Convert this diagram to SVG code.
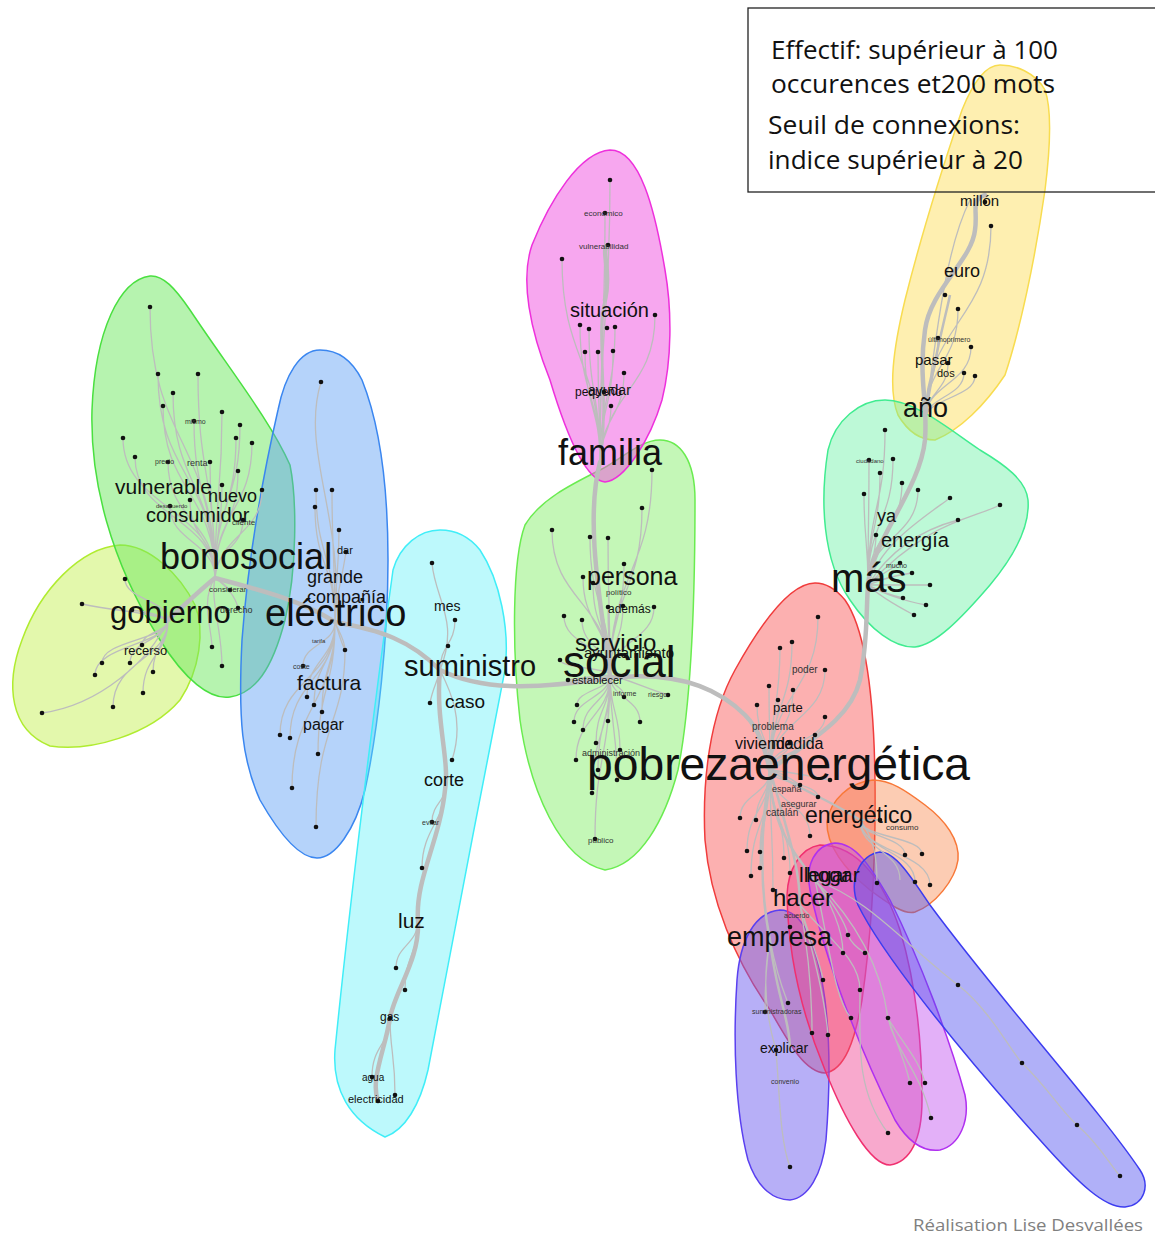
<svg xmlns="http://www.w3.org/2000/svg" width="1155" height="1236" viewBox="0 0 1155 1236">
<style>
.h{stroke-width:1.5}
.e{fill:none;stroke:#bdbdbd;stroke-width:1.3}
.b{fill:none;stroke:#bdbdbd;stroke-width:4.5;stroke-linecap:round}
.m{fill:none;stroke:#bdbdbd;stroke-width:2.5}
.n circle{fill:#111}
text{font-family:"Liberation Sans",Arial,sans-serif;fill:#111}
.s{fill:#333}
.lg{font-family:"Open Sans","Noto Sans",sans-serif;font-size:26px;fill:#111}
</style>
<rect width="1155" height="1236" fill="#fff"/>
<g id="hulls">
<g id="hull-gobierno"><path class="h" fill="#c8f25a" fill-opacity="0.5" stroke="#b0ec30" d="M120,545 C80,548 40,590 22,640 C5,685 10,730 50,746 C90,752 150,735 180,700 C200,670 205,630 195,605 C180,575 150,545 120,545 Z"/></g>
<g id="hull-bonosocial"><path class="h" fill="#6ee860" fill-opacity="0.5" stroke="#4ae040" d="M150,276 C120,280 95,330 92,410 C90,480 110,560 160,640 C185,680 210,700 230,697 C255,693 272,670 285,620 C297,570 297,500 290,465 C270,420 230,370 190,310 C175,288 163,275 150,276 Z"/></g>
<g id="hull-electrico"><path class="h" fill="#5a9ef5" fill-opacity="0.45" stroke="#3a86f0" d="M320,350 C300,350 285,375 278,410 C262,480 248,560 242,640 C238,720 242,760 260,800 C280,835 300,858 317,858 C335,858 355,830 365,790 C378,730 388,640 388,560 C388,480 378,420 362,380 C352,360 338,350 320,350 Z"/></g>
<g id="hull-suministro"><path class="h" fill="#5af0f8" fill-opacity="0.4" stroke="#40eef8" d="M440,530 C420,530 400,545 393,570 C375,700 350,900 335,1050 C332,1090 350,1120 385,1137 C405,1130 420,1105 428,1070 C450,950 480,800 505,670 C510,630 500,580 480,550 C468,535 455,530 440,530 Z"/></g>
<g id="hull-social"><path class="h" fill="#8af070" fill-opacity="0.5" stroke="#6aec50" d="M660,440 C640,440 620,460 600,470 C570,485 540,500 525,525 C512,560 512,650 520,720 C530,790 560,860 605,870 C640,865 665,820 678,770 C692,700 695,600 695,500 C695,460 680,440 660,440 Z"/></g>
<g id="hull-familia"><path class="h" fill="#f050e0" fill-opacity="0.5" stroke="#ee30dc" d="M610,150 C580,152 550,200 532,245 C520,280 530,330 550,380 C565,430 585,480 605,482 C625,480 650,440 662,400 C672,360 672,310 665,270 C655,210 640,150 610,150 Z"/></g>
<g id="hull-ano"><path class="h" fill="#fcdc50" fill-opacity="0.45" stroke="#f8dc50" d="M1000,65 C985,65 972,85 962,110 C945,160 920,240 905,300 C893,350 888,390 898,415 C908,432 920,440 935,440 C960,430 985,405 1005,375 C1020,330 1035,260 1045,190 C1050,150 1052,110 1045,90 C1035,72 1015,65 1000,65 Z"/></g>
<g id="hull-mas"><path class="h" fill="#5af09a" fill-opacity="0.4" stroke="#40ec90" d="M885,400 C860,400 835,420 828,450 C820,500 822,560 850,600 C870,630 895,648 915,647 C935,645 960,620 990,585 C1015,555 1030,525 1028,500 C1026,480 1005,465 980,450 C950,430 915,400 885,400 Z"/></g>
<g id="hull-pobreza"><path class="h" fill="#f85050" fill-opacity="0.45" stroke="#f03c3c" d="M815,583 C790,583 760,625 735,670 C710,715 702,780 705,840 C710,900 735,960 770,1010 C790,1045 805,1072 825,1073 C845,1070 855,1040 862,1000 C872,930 876,860 875,780 C874,700 866,630 845,600 C835,588 825,583 815,583 Z"/></g>
<g id="hull-energetico"><path class="h" fill="#f88040" fill-opacity="0.4" stroke="#f87838" d="M873,780 C850,782 830,800 827,822 C826,845 845,870 870,890 C890,905 905,915 915,912 C935,905 955,880 958,860 C960,840 945,820 925,805 C905,790 890,780 873,780 Z"/></g>
<g id="hull-explicar"><path class="h" fill="#7060f0" fill-opacity="0.5" stroke="#5a40f0" d="M780,910 C755,912 740,940 737,980 C733,1040 735,1110 748,1160 C758,1190 775,1200 790,1200 C808,1198 822,1175 826,1140 C830,1090 830,1040 825,1000 C818,950 805,910 780,910 Z"/></g>
<g id="hull-hogar"><path class="h" fill="#f04090" fill-opacity="0.45" stroke="#f03070" d="M820,845 C800,848 788,870 787,895 C788,950 800,1010 825,1070 C845,1120 870,1165 890,1165 C910,1162 922,1140 922,1100 C922,1040 915,980 900,930 C885,885 860,845 820,845 Z"/></g>
<g id="hull-violet"><path class="h" fill="#c050f0" fill-opacity="0.45" stroke="#b030f0" d="M835,843 C815,845 805,865 810,890 C825,960 860,1050 895,1120 C910,1145 925,1152 940,1150 C960,1145 970,1120 965,1095 C950,1040 920,960 890,900 C870,865 855,843 835,843 Z"/></g>
<g id="hull-diag"><path class="h" fill="#5050f0" fill-opacity="0.45" stroke="#3c3cf0" d="M880,852 C860,855 848,880 858,905 C880,950 950,1040 1040,1140 C1080,1185 1105,1208 1125,1207 C1145,1205 1150,1185 1140,1170 C1100,1110 1000,1000 930,905 C910,875 895,852 880,852 Z"/></g>
</g>
<g id="connectors">
<path class="e" d="M150,307 C150,443 215,443 215,578 M158,374 C158,476 215,476 215,578 M198,374 C198,476 215,476 215,578 M173,393 C173,485 215,485 215,578 M163,406 C163,492 215,492 215,578 M222,412 C222,495 215,495 215,578 M194,421 C194,500 215,500 215,578 M240,425 C240,502 215,502 215,578 M123,438 C123,508 215,508 215,578 M236,438 C236,508 215,508 215,578 M252,443 C252,510 215,510 215,578 M135,457 C135,518 215,518 215,578 M168,462 C168,520 215,520 215,578 M210,462 C210,520 215,520 215,578 M238,471 C238,525 215,525 215,578 M222,485 C222,531 215,531 215,578 M190,500 C190,539 215,539 215,578 M170,506 C170,542 215,542 215,578 M243,520 C243,549 215,549 215,578 M262,490 C262,534 220,534 215,578"/>
<path class="e" d="M125,579 C125,600 168,600 168,620 M82,604 C120,612 150,612 168,620 M132,610 C150,612 160,615 168,620 M142,645 C142,632 168,632 168,620 M102,663 C102,640 168,640 168,620 M130,663 C130,640 168,640 168,620 M95,675 C95,645 168,645 168,620 M153,672 C153,645 168,645 168,620 M143,693 C143,655 168,655 168,620 M113,707 C113,660 168,660 168,620 M42,713 C100,705 150,660 168,620 M212,647 C212,630 200,600 215,578 M222,666 C222,630 210,600 215,578 M230,590 C225,585 220,580 215,578 M238,608 C235,595 225,585 215,578"/>
<path class="e" d="M321,382 C300,450 345,520 335,622 M316,490 C316,556 335,556 335,622 M332,490 C332,556 335,556 335,622 M315,507 C315,565 335,565 335,622 M339,530 C339,576 335,576 335,622 M346,552 C340,590 335,600 335,622 M303,666 C303,644 335,644 335,622 M307,697 C307,660 335,660 335,622 M314,705 C314,664 335,664 335,622 M322,712 C322,667 335,667 335,622 M280,735 C280,679 335,679 335,622 M290,738 C290,680 335,680 335,622 M318,754 C318,688 335,688 335,622 M292,788 C292,705 335,705 335,622 M316,827 C316,724 345,724 345,650 C345,640 338,630 335,622 M345,650 C340,640 338,630 335,622"/>
<path class="e" d="M432,563 C435,600 460,620 440,670 M455,620 C455,645 440,645 440,670 M452,760 C465,720 450,690 440,670 M430,703 C432,690 438,680 440,670 M432,822 C432,805 445,800 445,790 M422,868 C422,830 445,820 445,790 M396,968 C396,945 418,945 418,920 M405,990 C405,955 418,955 418,920 M372,1077 C372,1045 390,1045 390,1018 M395,1095 C395,1055 390,1050 390,1018"/>
<path class="e" d="M610,180 C610,320 600,320 600,462 M605,213 C605,340 600,340 600,462 M562,259 C562,360 600,360 600,462 M580,325 C580,395 600,395 600,462 M589,329 C589,395 600,395 600,462 M615,327 C615,395 600,395 600,462 M585,352 C585,407 600,407 600,462 M598,352 C598,407 600,407 600,462 M613,351 C613,407 600,407 600,462 M624,373 C624,418 600,418 600,462 M604,392 C604,427 600,427 600,462 M611,406 C611,434 600,434 600,462 M655,315 C655,390 605,390 600,462"/>
<path class="e" d="M652,470 C652,572 610,572 610,675 M642,508 C642,592 610,592 610,675 M552,530 C552,602 610,602 610,675 M590,537 C590,606 610,606 610,675 M608,538 C608,606 610,606 610,675 M624,564 C624,620 610,620 610,675 M583,577 C583,626 610,626 610,675 M593,583 C593,629 610,629 610,675 M608,607 C608,641 610,641 610,675 M623,606 C623,641 610,641 610,675 M654,607 C654,641 610,641 610,675 M564,616 C564,646 610,646 610,675 M582,620 C582,648 610,648 610,675 M560,660 C560,668 610,668 610,675 M568,680 C580,678 600,676 610,675 M668,695 C650,690 630,680 610,675 M577,705 C577,690 610,690 610,675 M624,697 C624,686 610,686 610,675 M574,722 C574,698 610,698 610,675 M608,721 C608,698 610,698 610,675 M640,722 C640,698 610,698 610,675 M583,730 C583,702 610,702 610,675 M596,743 C596,709 610,709 610,675 M620,750 C620,712 610,712 610,675 M576,760 C576,717 610,717 610,675 M598,770 C598,722 610,722 610,675 M617,780 C617,727 610,727 610,675 M592,793 C592,734 610,734 610,675 M595,839 C595,757 610,757 610,675"/>
<path class="e" d="M818,617 C818,693 770,693 770,770 M792,642 C792,706 770,706 770,770 M780,648 C780,709 770,709 770,770 M769,686 C769,728 770,728 770,770 M793,690 C793,730 770,730 770,770 M825,670 C825,720 770,720 770,770 M757,705 C757,737 770,737 770,770 M778,700 C778,735 770,735 770,770 M825,717 C825,743 770,743 770,770 M815,735 C815,752 770,752 770,770 M790,742 C790,756 770,756 770,770 M755,760 C760,765 765,768 770,770 M830,780 C810,776 790,772 770,770 M800,785 C790,778 780,772 770,770 M818,797 C818,783 770,783 770,770 M740,818 C740,794 770,794 770,770 M756,820 C756,795 770,795 770,770 M810,836 C810,803 770,803 770,770 M747,851 C747,810 770,810 770,770 M760,852 C760,811 770,811 770,770 M784,858 C784,814 770,814 770,770 M760,868 C760,819 770,819 770,770 M790,873 C790,821 770,821 770,770 M773,890 C773,830 770,830 770,770 M751,876 C751,823 770,823 770,770"/>
<path class="e" d="M885,430 C885,508 868,508 868,585 M869,460 C869,522 868,522 868,585 M893,459 C893,522 868,522 868,585 M880,473 C880,529 868,529 868,585 M902,483 C902,534 868,534 868,585 M918,490 C918,538 868,538 868,585 M864,494 C864,540 868,540 868,585 M950,498 C920,520 880,545 868,585 M1000,505 C970,520 930,520 868,585 M958,520 C920,530 890,550 868,585 M876,535 C876,560 868,560 868,585 M900,563 C890,570 875,578 868,585 M912,573 C895,575 880,580 868,585 M930,585 C905,585 885,585 868,585 M903,598 C890,595 878,590 868,585 M926,605 C900,600 880,592 868,585 M914,615 C895,605 878,595 868,585"/>
<path class="e" d="M991,226 C991,323 925,323 925,420 M970,200 C950,240 940,300 925,420 M958,309 C958,365 925,365 925,420 M938,338 C938,379 925,379 925,420 M971,347 C971,384 925,384 925,420 M964,373 C964,397 925,397 925,420 M975,376 C975,398 925,398 925,420 M948,363 C948,392 925,392 925,420"/>
<path class="e" d="M880,820 C875,820 868,820 860,820 M922,854 C922,837 860,837 860,820 M905,855 C905,837 860,837 860,820 M930,885 C930,852 860,852 860,820 M900,880 C900,850 860,850 860,820 M915,882 C915,851 862,851 860,820"/>
<path class="e" d="M815,880 C850,915 880,960 888,1018 C895,1050 920,1070 931,1118 M800,905 C830,940 860,960 860,990 C860,1040 855,1090 888,1133 M770,940 C760,990 770,1030 776,1050 C780,1100 780,1140 790,1167 M815,880 C830,900 845,920 848,935 C852,945 860,950 865,953 M800,905 C810,940 820,960 823,980 M815,880 C830,900 843,930 843,953 M770,940 C778,980 785,995 788,1003 M770,940 C765,970 765,995 765,1012 M815,880 C830,950 835,1000 851,1018 M800,905 C810,960 812,1000 812,1033 M800,905 C815,960 825,1000 828,1035 M888,1018 C900,1040 920,1060 925,1083 M888,1018 C895,1040 905,1060 910,1083 M815,880 C870,900 900,940 958,985 C990,1010 1010,1050 1022,1063 C1050,1090 1060,1110 1077,1125 C1100,1145 1110,1165 1120,1176 M860,820 C875,840 877,860 877,883"/>
<path class="m" d="M770,770 C770,820 790,850 815,880 M770,770 C760,830 760,890 770,940 M770,770 C790,840 800,870 800,905 M770,770 C800,790 830,800 860,820 M770,940 C775,990 790,1020 790,1050 M600,462 C610,400 595,330 605,300 M925,420 C935,350 945,320 950,295"/>
<path class="b" d="M168,620 C190,600 200,590 215,578 C260,590 300,600 335,622 C380,630 410,640 440,670 C480,690 530,690 610,678 C680,670 720,690 745,715 C760,730 765,750 770,770 C810,740 850,720 860,680 C868,640 866,610 868,585 C872,540 920,490 925,440 C928,400 918,380 925,330 C930,290 972,260 975,230 C978,210 970,200 985,195"/>
<path class="b" d="M610,675 C600,600 585,520 600,462 M605,300 C612,270 600,250 608,245"/>
<path class="b" d="M440,670 C435,720 450,760 445,790 C440,840 415,880 418,920 C420,960 395,990 390,1018 C385,1050 370,1080 378,1101"/>
</g>
<g id="nodes" class="n">
<circle cx="150" cy="307" r="2.3"/><circle cx="158" cy="374" r="2.3"/><circle cx="198" cy="374" r="2.3"/><circle cx="173" cy="393" r="2.3"/><circle cx="163" cy="406" r="2.3"/><circle cx="222" cy="412" r="2.3"/><circle cx="194" cy="421" r="2.3"/><circle cx="240" cy="425" r="2.3"/><circle cx="123" cy="438" r="2.3"/><circle cx="236" cy="438" r="2.3"/><circle cx="252" cy="443" r="2.3"/><circle cx="135" cy="457" r="2.3"/><circle cx="168" cy="462" r="2.3"/><circle cx="210" cy="462" r="2.3"/><circle cx="238" cy="471" r="2.3"/><circle cx="222" cy="485" r="2.3"/><circle cx="190" cy="500" r="2.3"/><circle cx="170" cy="506" r="2.3"/><circle cx="243" cy="520" r="2.3"/><circle cx="262" cy="490" r="2.3"/>
<circle cx="125" cy="579" r="2.3"/><circle cx="82" cy="604" r="2.3"/><circle cx="132" cy="610" r="2.3"/><circle cx="142" cy="645" r="2.3"/><circle cx="102" cy="663" r="2.3"/><circle cx="130" cy="663" r="2.3"/><circle cx="95" cy="675" r="2.3"/><circle cx="153" cy="672" r="2.3"/><circle cx="143" cy="693" r="2.3"/><circle cx="113" cy="707" r="2.3"/><circle cx="42" cy="713" r="2.3"/><circle cx="212" cy="647" r="2.3"/><circle cx="222" cy="666" r="2.3"/><circle cx="230" cy="590" r="2.3"/><circle cx="238" cy="608" r="2.3"/>
<circle cx="321" cy="382" r="2.3"/><circle cx="316" cy="490" r="2.3"/><circle cx="332" cy="490" r="2.3"/><circle cx="315" cy="507" r="2.3"/><circle cx="339" cy="530" r="2.3"/><circle cx="346" cy="552" r="2.3"/><circle cx="303" cy="666" r="2.3"/><circle cx="307" cy="697" r="2.3"/><circle cx="314" cy="705" r="2.3"/><circle cx="322" cy="712" r="2.3"/><circle cx="280" cy="735" r="2.3"/><circle cx="290" cy="738" r="2.3"/><circle cx="318" cy="754" r="2.3"/><circle cx="292" cy="788" r="2.3"/><circle cx="316" cy="827" r="2.3"/><circle cx="345" cy="650" r="2.3"/>
<circle cx="432" cy="563" r="2.3"/><circle cx="455" cy="620" r="2.3"/><circle cx="448" cy="646" r="2.3"/><circle cx="430" cy="703" r="2.3"/><circle cx="452" cy="760" r="2.3"/><circle cx="432" cy="822" r="2.3"/><circle cx="422" cy="868" r="2.3"/><circle cx="396" cy="968" r="2.3"/><circle cx="405" cy="990" r="2.3"/><circle cx="390" cy="1018" r="2.3"/><circle cx="372" cy="1077" r="2.3"/><circle cx="395" cy="1095" r="2.3"/><circle cx="378" cy="1101" r="2.3"/>
<circle cx="610" cy="180" r="2.3"/><circle cx="605" cy="213" r="2.3"/><circle cx="608" cy="245" r="2.3"/><circle cx="562" cy="259" r="2.3"/><circle cx="580" cy="325" r="2.3"/><circle cx="589" cy="329" r="2.3"/><circle cx="607" cy="328" r="2.3"/><circle cx="615" cy="327" r="2.3"/><circle cx="585" cy="352" r="2.3"/><circle cx="598" cy="352" r="2.3"/><circle cx="613" cy="351" r="2.3"/><circle cx="624" cy="373" r="2.3"/><circle cx="604" cy="392" r="2.3"/><circle cx="611" cy="406" r="2.3"/><circle cx="655" cy="315" r="2.3"/>
<circle cx="652" cy="470" r="2.3"/><circle cx="642" cy="508" r="2.3"/><circle cx="552" cy="530" r="2.3"/><circle cx="590" cy="537" r="2.3"/><circle cx="608" cy="538" r="2.3"/><circle cx="624" cy="564" r="2.3"/><circle cx="583" cy="577" r="2.3"/><circle cx="593" cy="583" r="2.3"/><circle cx="608" cy="607" r="2.3"/><circle cx="623" cy="606" r="2.3"/><circle cx="654" cy="607" r="2.3"/><circle cx="564" cy="616" r="2.3"/><circle cx="582" cy="620" r="2.3"/><circle cx="560" cy="660" r="2.3"/><circle cx="568" cy="680" r="2.3"/><circle cx="668" cy="695" r="2.3"/><circle cx="577" cy="705" r="2.3"/><circle cx="624" cy="697" r="2.3"/><circle cx="574" cy="722" r="2.3"/><circle cx="608" cy="721" r="2.3"/><circle cx="640" cy="722" r="2.3"/><circle cx="583" cy="730" r="2.3"/><circle cx="596" cy="743" r="2.3"/><circle cx="620" cy="750" r="2.3"/><circle cx="576" cy="760" r="2.3"/><circle cx="598" cy="770" r="2.3"/><circle cx="617" cy="780" r="2.3"/><circle cx="592" cy="793" r="2.3"/><circle cx="595" cy="839" r="2.3"/>
<circle cx="818" cy="617" r="2.3"/><circle cx="792" cy="642" r="2.3"/><circle cx="780" cy="648" r="2.3"/><circle cx="769" cy="686" r="2.3"/><circle cx="793" cy="690" r="2.3"/><circle cx="825" cy="670" r="2.3"/><circle cx="757" cy="705" r="2.3"/><circle cx="778" cy="700" r="2.3"/><circle cx="825" cy="717" r="2.3"/><circle cx="815" cy="735" r="2.3"/><circle cx="790" cy="742" r="2.3"/><circle cx="755" cy="760" r="2.3"/><circle cx="830" cy="780" r="2.3"/><circle cx="800" cy="785" r="2.3"/><circle cx="818" cy="797" r="2.3"/><circle cx="740" cy="818" r="2.3"/><circle cx="756" cy="820" r="2.3"/><circle cx="810" cy="836" r="2.3"/><circle cx="747" cy="851" r="2.3"/><circle cx="760" cy="852" r="2.3"/><circle cx="784" cy="858" r="2.3"/><circle cx="760" cy="868" r="2.3"/><circle cx="790" cy="873" r="2.3"/><circle cx="773" cy="890" r="2.3"/><circle cx="751" cy="876" r="2.3"/>
<circle cx="885" cy="430" r="2.3"/><circle cx="869" cy="460" r="2.3"/><circle cx="893" cy="459" r="2.3"/><circle cx="880" cy="473" r="2.3"/><circle cx="902" cy="483" r="2.3"/><circle cx="918" cy="490" r="2.3"/><circle cx="864" cy="494" r="2.3"/><circle cx="950" cy="498" r="2.3"/><circle cx="1000" cy="505" r="2.3"/><circle cx="958" cy="520" r="2.3"/><circle cx="876" cy="535" r="2.3"/><circle cx="900" cy="563" r="2.3"/><circle cx="912" cy="573" r="2.3"/><circle cx="930" cy="585" r="2.3"/><circle cx="903" cy="598" r="2.3"/><circle cx="926" cy="605" r="2.3"/><circle cx="914" cy="615" r="2.3"/>
<circle cx="991" cy="226" r="2.3"/><circle cx="985" cy="202" r="2.3"/><circle cx="945" cy="295" r="2.3"/><circle cx="958" cy="309" r="2.3"/><circle cx="938" cy="338" r="2.3"/><circle cx="971" cy="347" r="2.3"/><circle cx="964" cy="373" r="2.3"/><circle cx="975" cy="376" r="2.3"/><circle cx="948" cy="363" r="2.3"/>
<circle cx="880" cy="820" r="2.3"/><circle cx="922" cy="854" r="2.3"/><circle cx="905" cy="855" r="2.3"/><circle cx="930" cy="885" r="2.3"/><circle cx="915" cy="882" r="2.3"/><circle cx="877" cy="883" r="2.3"/>
<circle cx="790" cy="927" r="2.3"/><circle cx="848" cy="935" r="2.3"/><circle cx="865" cy="953" r="2.3"/><circle cx="843" cy="953" r="2.3"/><circle cx="823" cy="980" r="2.3"/><circle cx="860" cy="990" r="2.3"/><circle cx="851" cy="1018" r="2.3"/><circle cx="888" cy="1018" r="2.3"/><circle cx="812" cy="1033" r="2.3"/><circle cx="828" cy="1035" r="2.3"/><circle cx="910" cy="1083" r="2.3"/><circle cx="925" cy="1083" r="2.3"/><circle cx="931" cy="1118" r="2.3"/><circle cx="888" cy="1133" r="2.3"/><circle cx="790" cy="1167" r="2.3"/><circle cx="788" cy="1003" r="2.3"/><circle cx="765" cy="1012" r="2.3"/><circle cx="776" cy="1050" r="2.3"/><circle cx="958" cy="985" r="2.3"/><circle cx="1022" cy="1063" r="2.3"/><circle cx="1077" cy="1125" r="2.3"/><circle cx="1120" cy="1176" r="2.3"/>
</g>
<g id="labels">
<g class="s">
<text x="185" y="424" font-size="7" class="s">mismo</text>
<text x="155" y="464" font-size="7" class="s">precio</text>
<text x="187" y="466" font-size="9" class="s">renta</text>
<text x="156" y="508" font-size="6" class="s">desacuerdo</text>
<text x="232" y="525" font-size="8" class="s">cliente</text>
<text x="209" y="592" font-size="8" class="s">considerar</text>
<text x="220" y="613" font-size="9" class="s">derecho</text>
<text x="312" y="643" font-size="6" class="s">tarifa</text>
<text x="293" y="669" font-size="7" class="s">coste</text>
<text x="584" y="216" font-size="8" class="s">económico</text>
<text x="579" y="249" font-size="8" class="s">vulnerabilidad</text>
<text x="606" y="595" font-size="8" class="s">político</text>
<text x="613" y="696" font-size="7" class="s">informe</text>
<text x="648" y="697" font-size="7" class="s">riesgo</text>
<text x="582" y="756" font-size="9" class="s">administración</text>
<text x="588" y="843" font-size="8" class="s">público</text>
<text x="422" y="825" font-size="7" class="s">evitar</text>
<text x="856" y="463" font-size="6" class="s">ciudadano</text>
<text x="886" y="568" font-size="7" class="s">mucho</text>
<text x="928" y="342" font-size="7" class="s">últimoprimero</text>
<text x="792" y="673" font-size="10" class="s">poder</text>
<text x="752" y="730" font-size="10" class="s">problema</text>
<text x="772" y="792" font-size="9" class="s">españa</text>
<text x="781" y="807" font-size="9" class="s">asegurar</text>
<text x="766" y="816" font-size="10" class="s">catalán</text>
<text x="886" y="830" font-size="8" class="s">consumo</text>
<text x="784" y="918" font-size="7" class="s">acuerdo</text>
<text x="752" y="1014" font-size="7" class="s">suministradoras</text>
<text x="771" y="1084" font-size="7" class="s">convenio</text>
</g>
<text x="115" y="494" font-size="21">vulnerable</text>
<text x="208" y="502" font-size="18">nuevo</text>
<text x="146" y="522" font-size="20">consumidor</text>
<text x="160" y="569" font-size="36">bonosocial</text>
<text x="110" y="623" font-size="31">gobierno</text>
<text x="124" y="655" font-size="13">recerso</text>
<text x="337" y="554" font-size="11">dar</text>
<text x="307" y="583" font-size="18">grande</text>
<text x="307" y="603" font-size="18">compañía</text>
<text x="265" y="626" font-size="38">eléctrico</text>
<text x="297" y="690" font-size="21">factura</text>
<text x="303" y="730" font-size="16">pagar</text>
<text x="434" y="611" font-size="14">mes</text>
<text x="404" y="676" font-size="29">suministro</text>
<text x="445" y="708" font-size="19">caso</text>
<text x="424" y="786" font-size="18">corte</text>
<text x="398" y="928" font-size="21">luz</text>
<text x="380" y="1021" font-size="12">gas</text>
<text x="362" y="1081" font-size="10">agua</text>
<text x="348" y="1103" font-size="11">electricidad</text>
<text x="570" y="317" font-size="20">situación</text>
<text x="575" y="396" font-size="12">pequeño</text>
<text x="588" y="395" font-size="14">ayudar</text>
<text x="558" y="465" font-size="36">familia</text>
<text x="587" y="585" font-size="25">persona</text>
<text x="608" y="613" font-size="12">además</text>
<text x="575" y="651" font-size="24">servicio</text>
<text x="584" y="658" font-size="15">ayuntamiento</text>
<text x="563" y="677" font-size="44">social</text>
<text x="572" y="684" font-size="11">establecer</text>
<text x="587" y="780" font-size="46" textLength="383" lengthAdjust="spacingAndGlyphs">pobrezaenergética</text>
<text x="773" y="712" font-size="13">parte</text>
<text x="735" y="749" font-size="16">vivienda</text>
<text x="771" y="749" font-size="16">medida</text>
<text x="831" y="592" font-size="40">más</text>
<text x="877" y="522" font-size="18">ya</text>
<text x="881" y="547" font-size="20">energía</text>
<text x="903" y="417" font-size="27">año</text>
<text x="915" y="365" font-size="15">pasar</text>
<text x="937" y="377" font-size="11">dos</text>
<text x="944" y="277" font-size="18">euro</text>
<text x="960" y="206" font-size="15">millón</text>
<text x="805" y="823" font-size="23">energético</text>
<text x="799" y="882" font-size="21">llegar</text>
<text x="806" y="882" font-size="21">hogar</text>
<text x="773" y="906" font-size="24">hacer</text>
<text x="727" y="946" font-size="27">empresa</text>
<text x="760" y="1053" font-size="14">explicar</text>
</g>
<g id="legend">
<rect x="748" y="8" width="420" height="184" fill="none" stroke="#222" stroke-width="1.3"/>
<text class="lg" x="771" y="59" textLength="287" lengthAdjust="spacingAndGlyphs">Effectif: supérieur à 100</text>
<text class="lg" x="771" y="93" textLength="284" lengthAdjust="spacingAndGlyphs">occurences et200 mots</text>
<text class="lg" x="768" y="134" textLength="252" lengthAdjust="spacingAndGlyphs">Seuil de connexions:</text>
<text class="lg" x="768" y="169" textLength="255" lengthAdjust="spacingAndGlyphs">indice supérieur à 20</text>
</g>
<text x="913" y="1231" font-size="17" textLength="230" lengthAdjust="spacingAndGlyphs" style="font-family:'Open Sans','Noto Sans',sans-serif;fill:#808080">Réalisation Lise Desvallées</text>
</svg>
